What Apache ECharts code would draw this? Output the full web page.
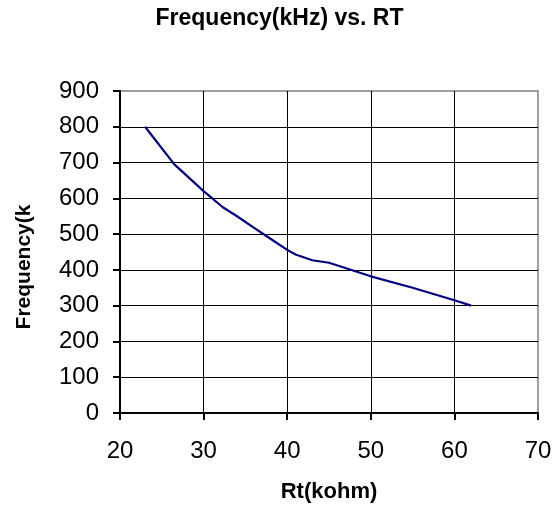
<!DOCTYPE html>
<html>
<head>
<meta charset="utf-8">
<script src="https://cdn.jsdelivr.net/npm/echarts@6/dist/echarts.min.js"></script>
<style>html,body{margin:0;padding:0;background:#fff;}#c{width:559px;height:508px;}</style>
</head>
<body>
<div id="c"></div>
<script>
var rt = [23, 26.5, 30, 32.3, 34, 36, 38, 40, 41, 43, 45, 50, 55, 60, 62];
var freq = [800, 695, 620, 575, 550, 518, 487, 456, 443, 427, 420, 382, 350, 315, 300];
var xTicks = [20, 30, 40, 50, 60, 70];
var yTicks = [0, 100, 200, 300, 400, 500, 600, 700, 800, 900];

var chart = echarts.init(document.getElementById('c'));
chart.setOption({
  animation: false,
  title: {
    text: 'Frequency(kHz) vs. RT',
    left: 'center', top: 7, padding: 0,
    textStyle: { fontFamily: 'Liberation Sans', fontSize: 23, fontWeight: 'bold', color: '#000' }
  },
  grid: { left: 120, right: 21, top: 91, bottom: 95, show: true, borderColor: '#808080', borderWidth: 1.5 },
  xAxis: {
    type: 'value', min: xTicks[0], max: xTicks[xTicks.length - 1], interval: 10,
    name: 'Rt(kohm)', nameLocation: 'middle', nameGap: 68,
    nameTextStyle: { fontFamily: 'Liberation Sans', fontSize: 22, fontWeight: 'bold', color: '#000' },
    axisLine: { show: true, lineStyle: { color: '#000', width: 2 } },
    axisTick: { show: true, length: 7, lineStyle: { color: '#000', width: 2 } },
    axisLabel: { margin: 26, fontFamily: 'Liberation Sans', fontSize: 24, color: '#000' },
    splitLine: { show: true, showMaxLine: false, lineStyle: { color: '#000', width: 1 } }
  },
  yAxis: {
    type: 'value', min: yTicks[0], max: yTicks[yTicks.length - 1], interval: 100,
    name: 'Frequency(kHz)', nameLocation: 'middle', nameGap: 85, nameRotate: 90,
    nameTruncate: { maxWidth: 130, ellipsis: '' },
    nameTextStyle: { fontFamily: 'Liberation Sans', fontSize: 21, fontWeight: 'bold', color: '#000',
      padding: [0, 30, 0, 0] },
    axisLine: { show: true, lineStyle: { color: '#000', width: 2 } },
    axisTick: { show: true, length: 7, lineStyle: { color: '#000', width: 2 } },
    axisLabel: { margin: 21, fontFamily: 'Liberation Sans', fontSize: 24, color: '#000' },
    splitLine: { show: true, showMaxLine: false, lineStyle: { color: '#000', width: 1 } }
  },
  series: [{
    type: 'line',
    data: rt.map(function (x, i) { return [x, freq[i]]; }),
    showSymbol: false, symbol: 'none',
    lineStyle: { color: '#000080', width: 2.2 }
  }]
});
</script>
</body>
</html>
